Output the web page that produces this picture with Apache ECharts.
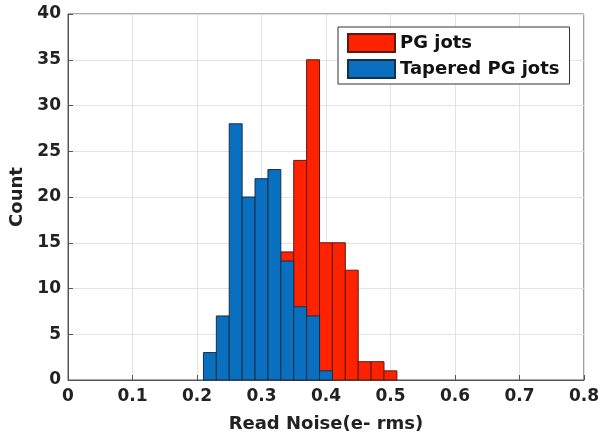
<!DOCTYPE html>
<html>
<head>
<meta charset="utf-8">
<script src="https://cdn.jsdelivr.net/npm/echarts@6/dist/echarts.min.js"></script>
<style>html,body{margin:0;padding:0;background:#fff}#c{width:602px;height:438px}</style>
</head>
<body>
<div id="c"></div>
<script>
const binWidth = 0.02;
const binStarts = [0.21, 0.23, 0.25, 0.27, 0.29, 0.31, 0.33, 0.35, 0.37, 0.39, 0.41, 0.43, 0.45, 0.47, 0.49];
const pgCounts = [null, null, null, null, null, null, 14, 24, 35, 15, 15, 12, 2, 2, 1];
const taperedCounts = [3, 7, 28, 20, 22, 23, 13, 8, 7, 1, null, null, null, null, null];
const xTicks = [0, 0.1, 0.2, 0.3, 0.4, 0.5, 0.6, 0.7, 0.8];
const yTicks = [0, 5, 10, 15, 20, 25, 30, 35, 40];
const seriesNames = ['PG jots', 'Tapered PG jots'];

function toData(counts) {
  const out = [];
  binStarts.forEach((s, i) => { if (counts[i] != null) out.push([s, s + binWidth, counts[i]]); });
  return out;
}
function renderBar(params, api) {
  const p0 = api.coord([api.value(0), 0]);
  const p1 = api.coord([api.value(1), api.value(2)]);
  return {
    type: 'rect',
    shape: { x: p0[0], y: p1[1], width: p1[0] - p0[0], height: p0[1] - p1[1] },
    style: api.style()
  };
}
const font = 'DejaVu Sans';
const chart = echarts.init(document.getElementById('c'));
chart.setOption({
  animation: false,
  backgroundColor: '#fff',
  grid: { left: 67, right: 15, top: 14, bottom: 56, show: true, borderColor: '#555', borderWidth: 1, backgroundColor: 'transparent' },
  legend: {
    left: 338, top: 27, orient: 'vertical', itemWidth: 47, itemHeight: 18, itemGap: 6,
    padding: [6, 10, 5, 9], borderColor: '#333', borderWidth: 1, backgroundColor: '#fff',
    icon: 'rect',
    textStyle: { fontFamily: font, fontWeight: 'bold', fontSize: 18, color: '#111' },
    data: seriesNames
  },
  xAxis: {
    type: 'value', min: xTicks[0], max: xTicks[xTicks.length - 1], interval: 0.1,
    name: 'Read Noise(e- rms)', nameLocation: 'middle', nameGap: 35,
    nameTextStyle: { fontFamily: font, fontWeight: 'bold', fontSize: 18, color: '#222' },
    axisLine: { show: true, lineStyle: { color: '#555' } },
    axisTick: { show: true, inside: true, length: 5, lineStyle: { color: '#555' } },
    axisLabel: { fontFamily: font, fontWeight: 'bold', fontSize: 17, color: '#222', margin: 8,
      formatter: v => String(Math.round(v * 10) / 10) },
    splitLine: { show: true, lineStyle: { color: '#e3e3e3' } }
  },
  yAxis: {
    type: 'value', min: yTicks[0], max: yTicks[yTicks.length - 1], interval: 5,
    name: 'Count', nameLocation: 'middle', nameGap: 42,
    nameTextStyle: { fontFamily: font, fontWeight: 'bold', fontSize: 18, color: '#222' },
    axisLine: { show: true, lineStyle: { color: '#555' } },
    axisTick: { show: true, inside: true, length: 5, lineStyle: { color: '#555' } },
    axisLabel: { fontFamily: font, fontWeight: 'bold', fontSize: 17, color: '#222', margin: 7 },
    splitLine: { show: true, lineStyle: { color: '#e3e3e3' } }
  },
  series: [
    { name: seriesNames[0], type: 'custom', renderItem: renderBar, encode: { x: [0, 1], y: 2 },
      itemStyle: { color: '#ff2200', borderColor: '#5a1a10', borderWidth: 1 }, data: toData(pgCounts) },
    { name: seriesNames[1], type: 'custom', renderItem: renderBar, encode: { x: [0, 1], y: 2 },
      itemStyle: { color: '#0a6fbf', borderColor: '#15304a', borderWidth: 1 }, data: toData(taperedCounts) }
  ]
});
</script>
</body>
</html>
